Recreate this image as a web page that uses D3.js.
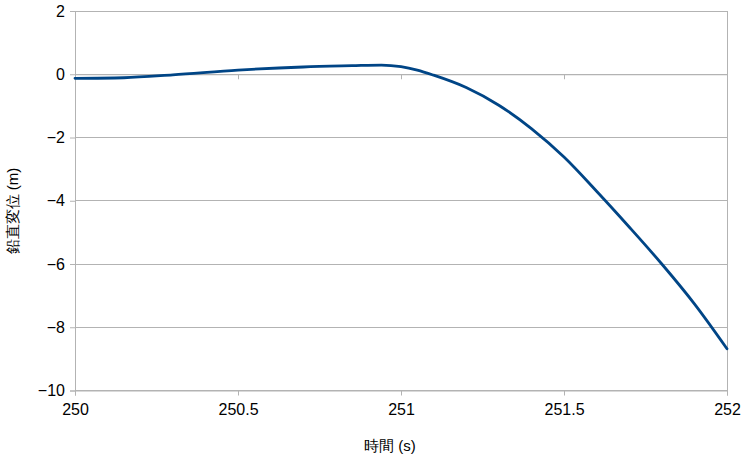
<!DOCTYPE html>
<html><head><meta charset="utf-8">
<script src="https://cdn.jsdelivr.net/npm/d3@7"></script>
<style>body{margin:0;background:#fff}text{font-family:"Liberation Sans",Arial,sans-serif}</style>
</head><body><svg id="c" width="746" height="460"></svg>
<script>
const times = [250, 250.15, 250.3, 250.5, 250.7, 250.85, 250.94, 251, 251.05, 251.1, 251.2, 251.3, 251.4, 251.5, 251.6, 251.7, 251.8, 251.9, 252];
const displacement = [-0.13, -0.11, -0.02, 0.13, 0.23, 0.27, 0.29, 0.24, 0.13, -0.03, -0.42, -0.98, -1.72, -2.62, -3.70, -4.83, -6.00, -7.26, -8.68];
const xTicks = [250, 250.5, 251, 251.5, 252];
const yTicks = [2, 0, -2, -4, -6, -8, -10];
const xTitle = "時間 (s)";
const yTitle = "鉛直変位 (m)";

const svg = d3.select("#c");
const L = 75, R = 727, T = 11, B = 390.5;
const x = d3.scaleLinear().domain([250, 252]).range([L, R]);
const y = d3.scaleLinear().domain([-10, 2]).range([B, T]);
const grid = "#b3b3b3";

// horizontal gridlines
svg.append("g").selectAll("line").data(yTicks).join("line")
  .attr("x1", L).attr("x2", R).attr("y1", d => y(d)).attr("y2", d => y(d))
  .attr("stroke", grid).attr("stroke-width", 1).attr("shape-rendering", "crispEdges");
// right border
svg.append("line").attr("x1", R).attr("x2", R).attr("y1", T).attr("y2", B)
  .attr("stroke", grid).attr("shape-rendering", "crispEdges");

// y axis
const yAxis = svg.append("g").attr("transform", `translate(${L},0)`)
  .call(d3.axisLeft(y).tickValues(yTicks).tickSize(5).tickPadding(5).tickFormat(d3.format("d")));
yAxis.select(".domain").attr("stroke", grid);
yAxis.selectAll(".tick line").attr("stroke", grid);
yAxis.selectAll("text").attr("font-size", 16).attr("fill", "#000").attr("font-family", "Liberation Sans, Arial, sans-serif");

// x axis ticks at zero line (no labels)
const xAxis0 = svg.append("g").attr("transform", `translate(0,${y(0)})`)
  .call(d3.axisBottom(x).tickValues(xTicks).tickSize(5).tickFormat(""));
xAxis0.select(".domain").attr("stroke", grid);
xAxis0.selectAll(".tick line").attr("stroke", grid);

// x axis labels at bottom
const xAxis = svg.append("g").attr("transform", `translate(0,${B})`)
  .call(d3.axisBottom(x).tickValues(xTicks).tickSize(5).tickPadding(8).tickFormat(d => String(d)));
xAxis.select(".domain").attr("stroke", grid);
xAxis.selectAll(".tick line").attr("stroke", grid);
xAxis.selectAll("text").attr("font-size", 16).attr("fill", "#000").attr("font-family", "Liberation Sans, Arial, sans-serif");

// line
const data = times.map((t, i) => [t, displacement[i]]);
svg.append("path").datum(data)
  .attr("fill", "none").attr("stroke", "#004586").attr("stroke-width", 2.8)
  .attr("stroke-linejoin", "round").attr("stroke-linecap", "round")
  .attr("d", d3.line().x(d => x(d[0])).y(d => y(d[1])).curve(d3.curveMonotoneX));

// titles
svg.append("text").attr("x", 390).attr("y", 451).attr("text-anchor", "middle")
  .attr("font-size", 15).attr("fill", "#000").text(xTitle);
svg.append("text").attr("transform", "translate(18,211) rotate(-90)").attr("text-anchor", "middle")
  .attr("font-size", 15).attr("fill", "#000").text(yTitle);
</script></body></html>
